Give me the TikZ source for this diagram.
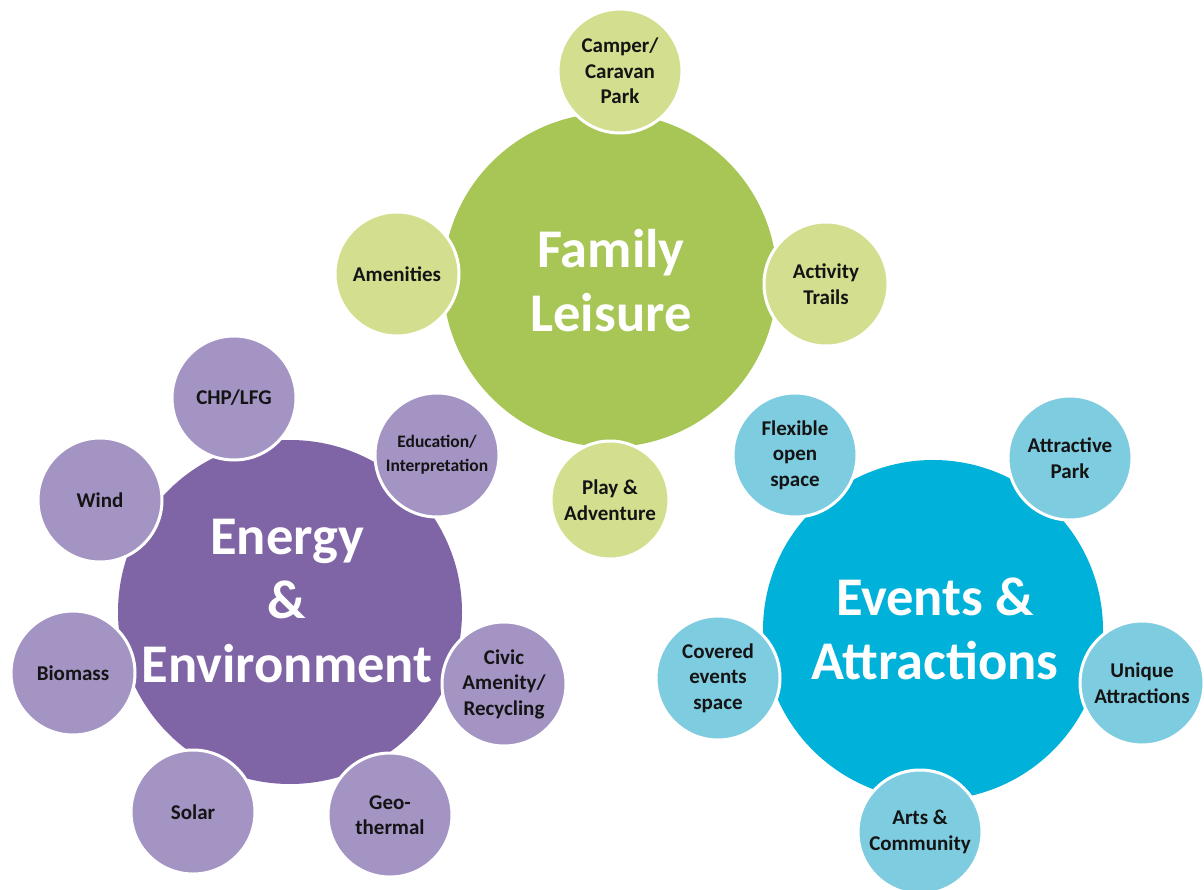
\documentclass[tikz,border=0pt]{standalone}
\usepackage{fontspec}
\setmainfont{Carlito}
\definecolor{gmain}{HTML}{A8C656}
\definecolor{gsat}{HTML}{D3DF8F}
\definecolor{pmain}{HTML}{7F65A5}
\definecolor{psat}{HTML}{A394C4}
\definecolor{bmain}{HTML}{00B1DA}
\definecolor{bsat}{HTML}{7ECCE0}
\definecolor{txt}{HTML}{141414}
\tikzset{
  maincirc/.style={circle, inner sep=0pt, outer sep=0pt, minimum size=#1},
  sat/.style={circle, draw=white, line width=3pt, inner sep=0pt, minimum size=124pt,
    align=center, font=\bfseries\fontsize{21}{25.5}\selectfont, text=txt},
  maintext/.style={align=center, text=white, font=\bfseries\fontsize{54.5}{64}\selectfont, inner sep=0pt}
}
\begin{document}
\begin{tikzpicture}[x=1pt,y=-1pt]
\useasboundingbox (0,0) rectangle (1204,890);
% Family Leisure
\node[maincirc=334pt, fill=gmain] (fl) at (610,280) {};
\node[maintext] (flt) at (611,281) {Family\\Leisure};
\node[sat, fill=gsat] (camper) at (620,71) {Camper/\\Caravan\\Park};
\node[sat, fill=gsat] (amen) at (397,274) {Amenities};
\node[sat, fill=gsat] (trails) at (826,284) {Activity\\Trails};
\node[sat, fill=gsat, minimum size=118pt] (play) at (610,500) {Play \&\\Adventure};
% Energy & Environment
\node[maincirc=344pt, fill=pmain] (ee) at (290,612) {};
\node[maintext] (eet) at (287,601) {Energy\\\&\\Environment};
\node[sat, fill=psat] (chp) at (234,398) {CHP/LFG};
\node[sat, fill=psat] (wind) at (100,500) {Wind};
\node[sat, fill=psat, font=\bfseries\fontsize{17.5}{24}\selectfont] (edu) at (437,455) {Education/\\Interpretation};
\node[sat, fill=psat] (bio) at (73,673) {Biomass};
\node[sat, fill=psat] (civic) at (504,684) {Civic\\Amenity/\\Recycling};
\node[sat, fill=psat] (solar) at (193,812) {Solar};
\node[sat, fill=psat] (geo) at (390,815) {Geo-\\thermal};
% Events & Attractions
\node[maincirc=340pt, fill=bmain] (ea) at (933,630) {};
\node[maintext] (eat) at (935,629) {Events \&\\Attractions};
\node[sat, fill=bsat] (flex) at (795,455) {Flexible\\open\\space};
\node[sat, fill=bsat] (park) at (1070,458) {Attractive\\Park};
\node[sat, fill=bsat] (covered) at (718,678) {Covered\\events\\space};
\node[sat, fill=bsat] (unique) at (1142,683) {Unique\\Attractions};
\node[sat, fill=bsat] (arts) at (920,832) {Arts \&\\Community};
\end{tikzpicture}
\end{document}
